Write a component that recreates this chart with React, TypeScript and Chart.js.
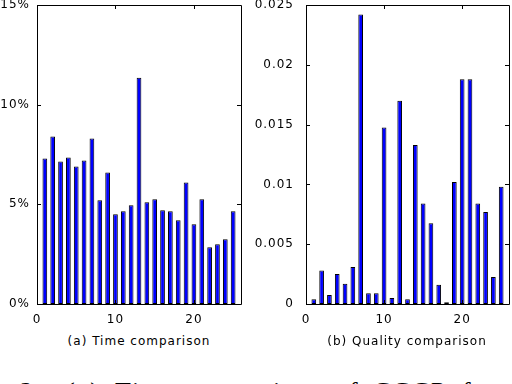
import React, { useEffect, useRef } from "react";
import { Chart, registerables } from "chart.js";

Chart.register(...registerables);

const positionsX: number[] = [1,2,3,4,5,6,7,8,9,10,11,12,13,14,15,16,17,18,19,20,21,22,23,24,25];
const timeValues: number[] = [7.3,8.4,7.15,7.35,6.9,7.2,8.3,5.2,6.6,4.5,4.65,4.95,11.35,5.1,5.25,4.7,4.65,4.2,6.1,4.0,5.25,2.85,3.0,3.25,4.65];
const qualityValues: number[] = [0.0004,0.0028,0.00075,0.0025,0.0017,0.0031,0.0242,0.0009,0.0009,0.01475,0.0005,0.017,0.0004,0.0133,0.0084,0.00675,0.0016,0.00015,0.0102,0.0188,0.0188,0.0084,0.0077,0.00225,0.0098];
const xTicks: number[] = [0, 10, 20];
const timeTicks: number[] = [0, 5, 10, 15];
const qualityTicks: number[] = [0, 0.005, 0.01, 0.015, 0.02, 0.025];
const captionA = "(a) Time comparison";
const captionB = "(b) Quality comparison";

const FONT = "'DejaVu Sans', sans-serif";

const framePlugin = {
  id: "frame",
  beforeDraw(chart: any) {
    chart.ctx.letterSpacing = "1px";
  },
  afterDraw(chart: any) {
    const { ctx, chartArea } = chart;
    const { left, right, top, bottom } = chartArea;
    const x = chart.scales.x;
    const y = chart.scales.y;
    ctx.save();
    ctx.strokeStyle = "#000";
    ctx.lineWidth = 1;
    ctx.beginPath();
    ctx.rect(Math.round(left) + 0.5, Math.round(top) + 0.5, Math.round(right - left), Math.round(bottom - top));
    const L = 4;
    y.ticks.forEach((t: any) => {
      const py = Math.round(y.getPixelForValue(t.value)) + 0.5;
      ctx.moveTo(left, py); ctx.lineTo(left + L, py);
      ctx.moveTo(right, py); ctx.lineTo(right - L, py);
    });
    x.ticks.forEach((t: any) => {
      const px = Math.round(x.getPixelForValue(t.value)) + 0.5;
      ctx.moveTo(px, bottom); ctx.lineTo(px, bottom - L);
      ctx.moveTo(px, top); ctx.lineTo(px, top + L);
    });
    ctx.stroke();
    ctx.restore();
  },
};

function makeConfig(values: number[], yTicks: number[], yFmt: (v: number) => string, yWidth: number, padRight: number, yPad: number): any {
  const yMax = yTicks[yTicks.length - 1];
  return {
    type: "bar",
    data: {
      datasets: [
        {
          data: positionsX.map((x, i) => ({ x, y: values[i] })),
          backgroundColor: "#0000ff",
          borderColor: "#000000",
          borderWidth: 1,
          borderSkipped: false,
          categoryPercentage: 1,
          barPercentage: 0.6,
        },
      ],
    },
    options: {
      animation: false,
      responsive: false,
      maintainAspectRatio: false,
      layout: { padding: { left: 0, right: padRight, top: 5, bottom: 0 } },
      plugins: { legend: { display: false }, tooltip: { enabled: false } },
      scales: {
        x: {
          type: "linear",
          min: 0,
          max: 26,
          offset: false,
          grid: { display: false, drawTicks: false },
          border: { display: false },
          afterBuildTicks: (s: any) => { s.ticks = xTicks.map((v) => ({ value: v })); },
          afterFit: (s: any) => { s.height = 26; s.paddingLeft = 0; s.paddingRight = 0; },
          ticks: {
            includeBounds: false,
            maxRotation: 0,
            autoSkip: false,
            padding: 9,
            color: "#000",
            font: { family: FONT, size: 12 },
            callback: (v: number) => String(v),
          },
        },
        y: {
          type: "linear",
          min: 0,
          max: yMax,
          grid: { display: false, drawTicks: false },
          border: { display: false },
          afterBuildTicks: (s: any) => { s.ticks = yTicks.map((v) => ({ value: v })); },
          afterFit: (s: any) => { s.width = yWidth; s.paddingTop = 0; s.paddingBottom = 0; },
          ticks: {
            autoSkip: false,
            padding: yPad,
            color: "#000",
            font: { family: FONT, size: 12 },
            callback: (v: number) => yFmt(v),
          },
        },
      },
    },
    plugins: [framePlugin],
  };
}

function BarPanel(props: { values: number[]; yTicks: number[]; yFmt: (v: number) => string; yWidth: number; padRight: number; yPad: number; width: number; left: number }) {
  const ref = useRef<HTMLCanvasElement>(null);
  useEffect(() => {
    if (!ref.current) return;
    const chart = new Chart(ref.current, makeConfig(props.values, props.yTicks, props.yFmt, props.yWidth, props.padRight, props.yPad));
    return () => chart.destroy();
  }, []);
  return (
    <canvas
      ref={ref}
      width={props.width}
      height={330}
      style={{ position: "absolute", left: props.left, top: 0, width: props.width, height: 330 }}
    />
  );
}

const captionStyle: React.CSSProperties = {
  position: "absolute",
  top: 333,
  fontFamily: FONT,
  fontSize: 12,
  letterSpacing: "1px",
  color: "#000",
  whiteSpace: "nowrap",
  transform: "translateX(-50%)",
  lineHeight: "16px",
};

const bottomWords: { text: string; x: number }[] = [
  { text: "2:", x: 20 },
  { text: "(a)", x: 66 },
  { text: "Time", x: 115 },
  { text: "comparison", x: 183 },
  { text: "of", x: 334 },
  { text: "CCCP", x: 373 },
  { text: "for", x: 462 },
];

export default function App() {
  useEffect(() => {
    document.body.style.margin = "0";
  }, []);
  return (
    <div style={{ position: "fixed", left: 0, top: 0, width: 512, height: 384, overflow: "hidden", background: "#fff" }}>
      <BarPanel values={timeValues} yTicks={timeTicks} yFmt={(v) => `${Math.round(v)}%`} yWidth={37} padRight={9} yPad={7} width={250} left={0} />
      <BarPanel values={qualityValues} yTicks={qualityTicks} yFmt={(v) => (v === 0 ? "0" : String(Number(v.toFixed(3))))} yWidth={60} padRight={3} yPad={12} width={266} left={246} />
      <div style={{ ...captionStyle, left: 139 }}>{captionA}</div>
      <div style={{ ...captionStyle, left: 407 }}>{captionB}</div>
      {bottomWords.map((w, i) => (
        <div
          key={i}
          style={{
            position: "absolute",
            left: w.x,
            top: 379,
            fontFamily: "'Liberation Serif', serif",
            fontSize: 26,
            lineHeight: "26px",
            letterSpacing: "2px",
            whiteSpace: "nowrap",
            color: "#000",
          }}
        >
          {w.text}
        </div>
      ))}
    </div>
  );
}
